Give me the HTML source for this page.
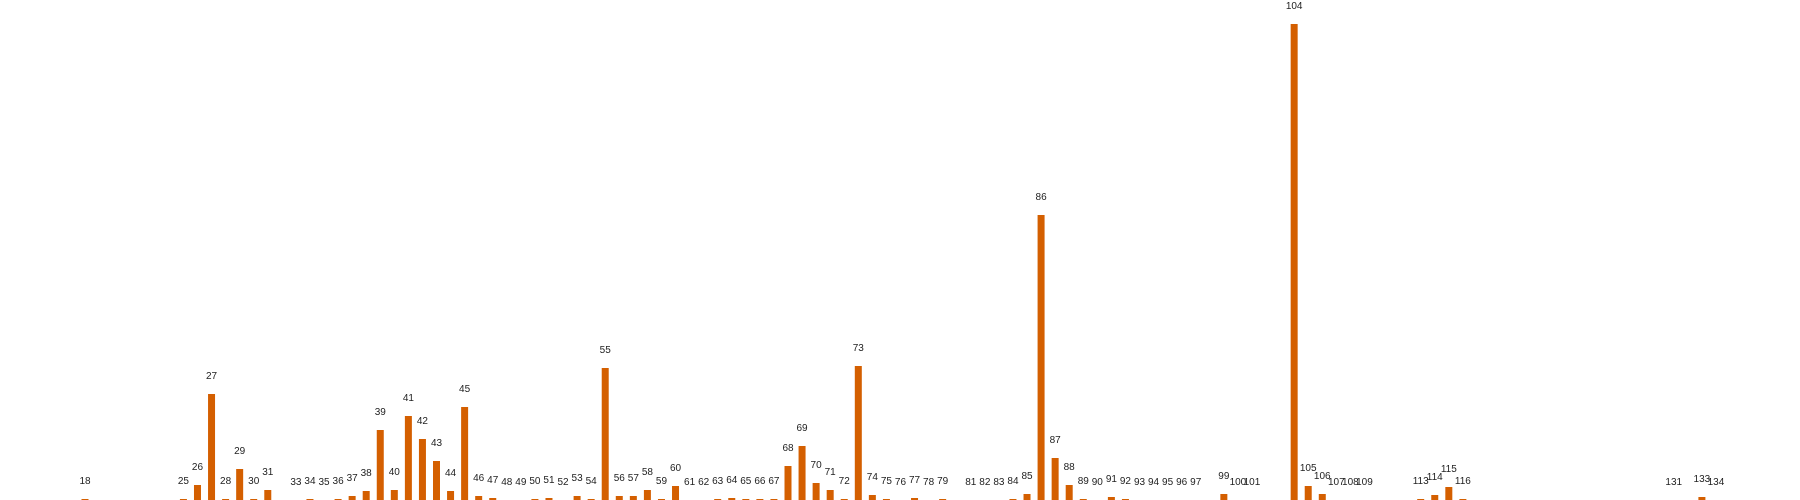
<!DOCTYPE html>
<html><head><meta charset="utf-8"><style>
html,body{margin:0;padding:0;background:#fff;}
svg{display:block;}
text{font-family:"Liberation Sans",sans-serif;font-size:10px;fill:#222;}
</style></head><body>
<svg id="chart" width="1800" height="500" xmlns="http://www.w3.org/2000/svg"></svg>
<script>
const categories=[18,25,26,27,28,29,30,31,33,34,35,36,37,38,39,40,41,42,43,44,45,46,47,48,49,50,51,52,53,54,55,56,57,58,59,60,61,62,63,64,65,66,67,68,69,70,71,72,73,74,75,76,77,78,79,81,82,83,84,85,86,87,88,89,90,91,92,93,94,95,96,97,99,100,101,104,105,106,107,108,109,113,114,115,116,131,133,134];
const values=[1,1,15,106,1,31,1,10,0,1,0,1,4,9,70,10,84,61,39,9,93,4,2,0,0,1,2,0,4,1,132,4,4,10,1,14,0,0,1,2,1,1,1,34,54,17,10,1,134,5,1,0,2,0,1,0,0,0,1,6,285,42,15,1,0,3,1,0,0,0,0,0,6,0,0,476,14,6,0,0,0,1,5,13,1,0,3,0];
const svg=document.getElementById('chart');
const NS='http://www.w3.org/2000/svg';
const baseY=500, maxV=476, plotH=476;
function x(n){return 85+(n-18)*14.06;}
function h(v){return v/maxV*plotH;}
categories.forEach((c,i)=>{
  const v=values[i];
  const r=document.createElementNS(NS,'rect');
  r.setAttribute('x',x(c)-3.5);
  r.setAttribute('y',baseY-h(v));
  r.setAttribute('width',7);
  r.setAttribute('height',h(v));
  r.setAttribute('fill','#d45f00');
  
  
  svg.appendChild(r);
  const t=document.createElementNS(NS,'text');
  t.setAttribute('x',x(c));
  t.setAttribute('y',baseY-h(v)-15);
  t.setAttribute('text-anchor','middle');
  t.textContent=String(c);
  
  
  svg.appendChild(t);
});
</script>
</body></html>
